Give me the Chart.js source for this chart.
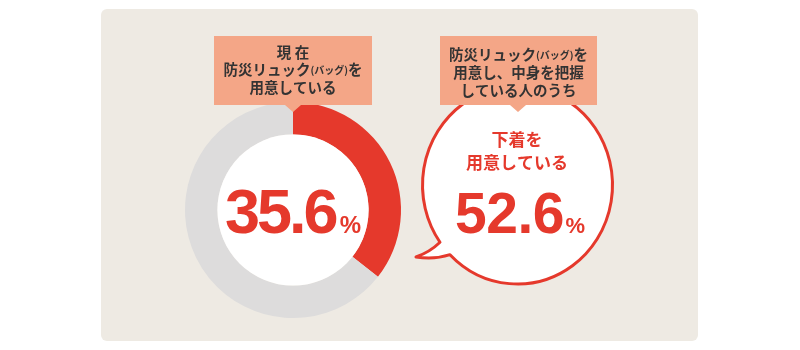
<!DOCTYPE html>
<html lang="ja">
<head>
<meta charset="utf-8">
<script src="https://cdn.jsdelivr.net/npm/chart.js@4/dist/chart.umd.min.js"></script>
<style>
  html, body { margin: 0; padding: 0; background: #ffffff; }
  #wrap { width: 800px; height: 350px; }
</style>
</head>
<body>
<div id="wrap"><canvas id="chart" width="800" height="350"></canvas></div>
<script>
// 防災リュック（バッグ）の用意状況
const categories = ['防災リュック(バッグ)を用意している', '用意していない'];
const shares = [35.6, 64.4];
// 中身を把握している人のうち、下着を用意している割合
const underwearShare = 52.6;

const leftCaption = ['現 在', '防災リュック(バッグ)を', '用意している'];
const rightCaption = ['防災リュック(バッグ)を', '用意し、中身を把握', 'している人のうち'];
const bubbleCaption = ['下着を', '用意している'];

const RED = '#e5392c';
const GRAY = '#dddcdc';
const SALMON = '#f4a687';
const PANEL = '#eeeae3';
const INK = '#333333';
const JP = '"Noto Sans CJK JP", "Noto Sans", sans-serif';
const NUM = '"Liberation Sans", Arial, sans-serif';

// 1行の文字列を描く。括弧内は小さい文字にする
function drawLine(ctx, line, cx, cy, size, color) {
  const parts = line.split(/(\(.*?\))/).filter(p => p.length);
  const segs = parts.map(p => {
    const small = p.startsWith('(');
    const px = small ? Math.round(size * 0.68) : size;
    ctx.font = `bold ${px}px ${JP}`;
    return { text: p, px, w: ctx.measureText(p).width };
  });
  const total = segs.reduce((a, s) => a + s.w, 0);
  let x = cx - total / 2;
  ctx.fillStyle = color;
  ctx.textAlign = 'left';
  ctx.textBaseline = 'middle';
  for (const s of segs) {
    ctx.font = `bold ${s.px}px ${JP}`;
    ctx.fillText(s.text, x, cy + (s.px < size ? 1 : 0));
    x += s.w;
  }
}

// 数値 + % を描く
function drawValue(ctx, value, cx, baseY, bigPx, smallPx, track) {
  const num = value.toFixed(1);
  ctx.font = `bold ${bigPx}px ${NUM}`;
  const widths = [...num].map(ch => ctx.measureText(ch).width);
  const numW = widths.reduce((a, b) => a + b, 0) + track * (num.length - 1);
  ctx.font = `bold ${smallPx}px ${NUM}`;
  const pctW = ctx.measureText('%').width;
  const gap = 1;
  let x = cx - (numW + gap + pctW) / 2;
  ctx.fillStyle = RED;
  ctx.textAlign = 'left';
  ctx.textBaseline = 'alphabetic';
  ctx.font = `bold ${bigPx}px ${NUM}`;
  [...num].forEach((ch, i) => {
    ctx.fillText(ch, x, baseY);
    x += widths[i] + track;
  });
  x += gap - track;
  ctx.font = `bold ${smallPx}px ${NUM}`;
  ctx.fillText('%', x, baseY);
}

// 下向きの三角が付いた見出しボックス
function drawCaptionBox(ctx, x0, y0, x1, y1, tipX, tipY, lines, lineYs, size) {
  ctx.save();
  ctx.fillStyle = SALMON;
  ctx.beginPath();
  ctx.moveTo(x0, y0);
  ctx.lineTo(x1, y0);
  ctx.lineTo(x1, y1);
  ctx.lineTo(tipX + 8, y1);
  ctx.lineTo(tipX, tipY);
  ctx.lineTo(tipX - 8, y1);
  ctx.lineTo(x0, y1);
  ctx.closePath();
  ctx.fill();
  const cx = (x0 + x1) / 2;
  lines.forEach((ln, i) => drawLine(ctx, ln, cx, lineYs[i], size, INK));
  ctx.restore();
}

// 吹き出し（楕円 + 左下のしっぽ）
function drawBubble(ctx) {
  const cx = 517.5, cy = 185, rx = 95, ry = 99;
  const tUpper = Math.PI - Math.acos(77.5 / 95);
  const tLower = Math.PI - Math.acos(67.5 / 95);
  const up = [cx + rx * Math.cos(tUpper), cy + ry * Math.sin(tUpper)];
  ctx.save();
  ctx.beginPath();
  ctx.ellipse(cx, cy, rx, ry, 0, tUpper, tLower + Math.PI * 2);
  ctx.quadraticCurveTo(434, 260, 416, 257);
  ctx.quadraticCurveTo(430, 252, up[0], up[1]);
  ctx.closePath();
  ctx.fillStyle = '#ffffff';
  ctx.fill();
  ctx.lineWidth = 3;
  ctx.lineJoin = 'round';
  ctx.strokeStyle = RED;
  ctx.stroke();
  ctx.restore();

  ctx.save();
  drawLine(ctx, bubbleCaption[0], 517, 140, 17, RED);
  drawLine(ctx, bubbleCaption[1], 517, 163, 17, RED);
  drawValue(ctx, underwearShare, 520, 233, 57, 22, -0.5);
  ctx.restore();
}

const decor = {
  id: 'decor',
  beforeDraw(chart) {
    const ctx = chart.ctx;
    ctx.save();
    ctx.fillStyle = '#ffffff';
    ctx.fillRect(0, 0, chart.width, chart.height);
    ctx.fillStyle = PANEL;
    ctx.beginPath();
    ctx.roundRect(101, 9, 597, 332, 6);
    ctx.fill();
    ctx.restore();
  },
  afterDatasetsDraw(chart) {
    const ctx = chart.ctx;
    const arc = chart.getDatasetMeta(0).data[0];
    ctx.save();
    ctx.fillStyle = '#ffffff';
    ctx.beginPath();
    ctx.arc(arc.x, arc.y, arc.innerRadius, 0, Math.PI * 2);
    ctx.fill();
    drawValue(ctx, shares[0], arc.x, arc.y + 23, 63, 24, -3);
    ctx.restore();
  },
  afterDraw(chart) {
    const ctx = chart.ctx;
    const arc = chart.getDatasetMeta(0).data[0];
    drawCaptionBox(ctx, 214, 36, 372, 105, arc.x, 112, leftCaption, [52, 69.5, 87.5], 14.5);
    drawBubble(ctx);
    drawCaptionBox(ctx, 440, 36, 597, 105, 518, 112, rightCaption, [54, 72.5, 90.5], 14.5);
  }
};

new Chart(document.getElementById('chart'), {
  type: 'doughnut',
  data: {
    labels: categories,
    datasets: [{
      data: shares,
      backgroundColor: [RED, GRAY],
      borderWidth: 0
    }]
  },
  options: {
    responsive: false,
    animation: false,
    devicePixelRatio: 1,
    cutout: '70%',
    events: [],
    layout: { padding: { left: 185, right: 399, top: 102, bottom: 32 } },
    plugins: {
      legend: { display: false },
      tooltip: { enabled: false }
    }
  },
  plugins: [decor]
});
</script>
</body>
</html>
